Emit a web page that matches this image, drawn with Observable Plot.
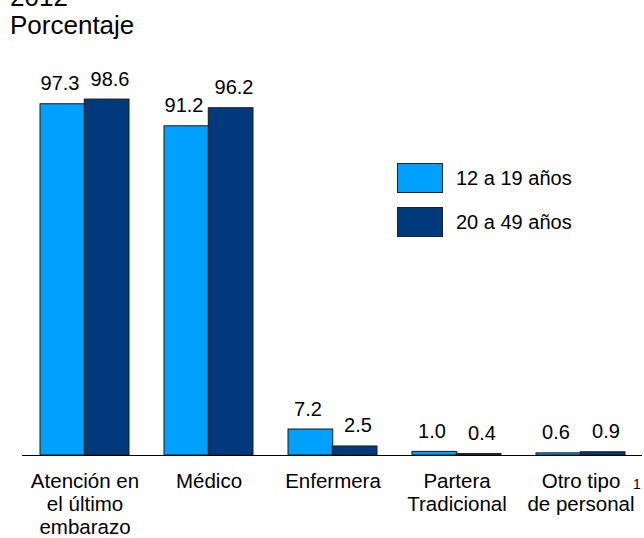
<!DOCTYPE html>
<html>
<head>
<meta charset="utf-8">
<script src="https://cdn.jsdelivr.net/npm/d3@7"></script>
<script src="https://cdn.jsdelivr.net/npm/@observablehq/plot@0.6"></script>
<style>
  html, body { margin: 0; padding: 0; background: #fff; }
  body { font-family: "Liberation Sans", Arial, Helvetica, sans-serif; color: #000; }
  #wrap { position: relative; width: 644px; height: 538px; overflow: hidden; }
  #title { position: absolute; left: 10px; top: -17px; font-size: 26px; line-height: 28px; white-space: nowrap; }
  #chart { position: absolute; left: 0; top: 44px; }
  .leg { position: absolute; left: 397px; width: 46px; height: 30px; box-sizing: border-box; border: 1px solid #222; }
  .legt { position: absolute; left: 456px; font-size: 20px; line-height: 30px; white-space: nowrap; }
  #note { position: absolute; left: 633px; top: 477px; font-size: 14px; line-height: 14px; }
</style>
</head>
<body>
<div id="wrap">
  <div id="title">2012<br>Porcentaje</div>
  <div id="chart"></div>
  <div id="legend"></div>
  <div id="note">1</div>
</div>
<script>
const categories = ["Atención en\nel último\nembarazo", "Médico", "Enfermera", "Partera\nTradicional", "Otro tipo\nde personal"];
const series = ["12 a 19 años", "20 a 49 años"];
const values12a19 = [97.3, 91.2, 7.2, 1.0, 0.6];
const values20a49 = [98.6, 96.2, 2.5, 0.4, 0.9];
const colors = ["#00A0FF", "#003A7D"];

const dataA = categories.map((c, i) => ({category: c, series: series[0], value: values12a19[i]}));
const dataB = categories.map((c, i) => ({category: c, series: series[1], value: values20a49[i]}));

const half = 44.27;
const fmt = d3.format(".1f");

const chart = Plot.plot({
  width: 644,
  height: 494,
  marginTop: 50,
  marginBottom: 83,
  marginLeft: 22,
  marginRight: 2,
  style: {fontFamily: "'Liberation Sans', Arial, sans-serif", fontSize: "20px", color: "#000", background: "transparent"},
  x: {domain: categories, paddingInner: 0.286, paddingOuter: 0.143, align: 0.5, label: null, tickSize: 0, tickPadding: 16},
  y: {domain: [0, 100], axis: null},
  marks: [
    Plot.barY(dataA, {x: "category", y: "value", fill: colors[0], stroke: "#1a1a1a", strokeWidth: 1, insetRight: half}),
    Plot.barY(dataB, {x: "category", y: "value", fill: colors[1], stroke: "#1a1a1a", strokeWidth: 1, insetLeft: half}),
    Plot.text(dataA, {x: "category", y: "value", text: d => fmt(d.value), dx: -25, dy: -14, lineAnchor: "bottom", fontSize: 20, fill: "#000"}),
    Plot.text(dataB, {x: "category", y: "value", text: d => fmt(d.value), dx: 25, dy: -14, lineAnchor: "bottom", fontSize: 20, fill: "#000"}),
    Plot.ruleY([0], {stroke: "#000", strokeWidth: 1}),
    Plot.axisX({anchor: "bottom", tickSize: 0, tickPadding: 16, fontSize: 20.5, lineHeight: 1.13, label: null})
  ]
});
document.getElementById("chart").appendChild(chart);

const legend = document.getElementById("legend");
series.forEach((s, i) => {
  const box = document.createElement("div");
  box.className = "leg";
  box.style.top = (163 + i * 44) + "px";
  box.style.background = colors[i];
  legend.appendChild(box);
  const t = document.createElement("div");
  t.className = "legt";
  t.style.top = (163 + i * 44) + "px";
  t.textContent = s;
  legend.appendChild(t);
});
</script>
</body>
</html>
